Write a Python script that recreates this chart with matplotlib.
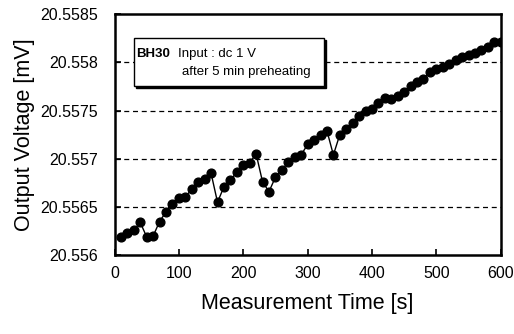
import matplotlib
matplotlib.use('Agg')
import matplotlib.pyplot as plt
from matplotlib.patches import Rectangle

# ---- Data ----
time_s = list(range(10, 610, 10))
voltage_mv = [
    20.55619, 20.55623, 20.55626, 20.55634, 20.55619, 20.55620, 20.55635, 20.55645,
    20.55653, 20.55659, 20.55660, 20.55669, 20.55676, 20.55679, 20.55685, 20.55655,
    20.55671, 20.55678, 20.55686, 20.55694, 20.55696, 20.55705, 20.55676, 20.55666,
    20.55681, 20.55688, 20.55697, 20.55702, 20.55704, 20.55715, 20.55719, 20.55725,
    20.55729, 20.55704, 20.55725, 20.55731, 20.55737, 20.55744, 20.55749, 20.55752,
    20.55758, 20.55763, 20.55762, 20.55765, 20.55769, 20.55775, 20.55780, 20.55783,
    20.55790, 20.55793, 20.55795, 20.55798, 20.55802, 20.55805, 20.55808, 20.55810,
    20.55813, 20.55816, 20.55821, 20.55821,
]
x_ticks = [0, 100, 200, 300, 400, 500, 600]
y_ticks = [20.556, 20.5565, 20.557, 20.5575, 20.558, 20.5585]
y_tick_labels = ['20.556', '20.5565', '20.557', '20.5575', '20.558', '20.5585']
grid_levels = [20.5565, 20.557, 20.5575, 20.558]

plt.rcParams['font.family'] = ['Liberation Sans', 'DejaVu Sans']

fig = plt.figure(figsize=(5.14, 3.34), dpi=100)
ax = fig.add_axes([0.2228, 0.2356, 0.7514, 0.7225])

for level in grid_levels:
    ax.axhline(level, color='black', linestyle=(0, (4, 3)), linewidth=0.9, zorder=1)

ax.plot(time_s, voltage_mv, color='black', linewidth=1.0, marker='o',
        markersize=6.3, markerfacecolor='black', markeredgecolor='black', zorder=3)

ax.set_xlim(0, 600)
ax.set_ylim(20.556, 20.5585)
ax.set_xticks(x_ticks)
ax.set_yticks(y_ticks)
ax.set_yticklabels(y_tick_labels)
ax.tick_params(direction='in', length=4, width=1.2, labelsize=11.5, colors='black')
ax.tick_params(axis='x', pad=8)
ax.tick_params(axis='y', pad=12)
for spine in ax.spines.values():
    spine.set_linewidth(1.8)

ax.set_xlabel('Measurement Time [s]', fontsize=15.5, labelpad=8)
ax.set_ylabel('Output Voltage [mV]', fontsize=15.5, labelpad=4)

# annotation box with a drop shadow
shadow = Rectangle((0.056, 0.693), 0.4915, 0.2, transform=ax.transAxes,
                   facecolor='black', edgecolor='black', zorder=4)
box = Rectangle((0.051, 0.7016), 0.4915, 0.2, transform=ax.transAxes,
                facecolor='white', edgecolor='black', linewidth=1.0, zorder=5)
ax.add_patch(shadow)
ax.add_patch(box)
ax.text(0.055, 0.835, 'BH30', transform=ax.transAxes, fontsize=9.5,
        fontweight='bold', va='center', ha='left', zorder=6)
ax.text(0.165, 0.835, 'Input : dc 1 V', transform=ax.transAxes, fontsize=9.5,
        va='center', ha='left', zorder=6)
ax.text(0.176, 0.76, 'after 5 min preheating', transform=ax.transAxes,
        fontsize=9.5, va='center', ha='left', zorder=6)

fig.savefig('out.png', dpi=100)
